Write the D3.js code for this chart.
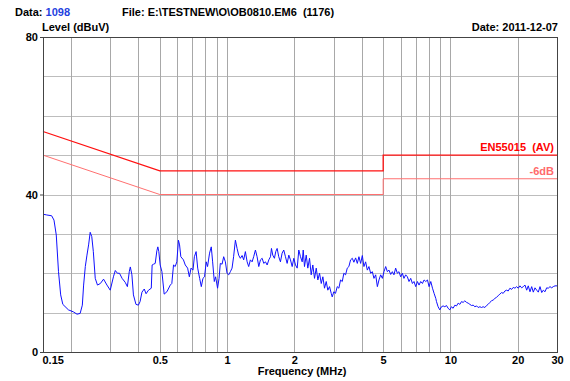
<!DOCTYPE html>
<html>
<head>
<meta charset="utf-8">
<script src="https://cdn.jsdelivr.net/npm/d3@7"></script>
<style>
  html, body { margin: 0; padding: 0; background: #fff; }
  svg { display: block; }
  text { font-family: "Liberation Sans", Arial, sans-serif; font-weight: bold; white-space: pre; }
</style>
</head>
<body>
<svg id="chart" width="570" height="381"></svg>
<script>
// Scan trace: frequency (MHz) and level (dBuV)
const traceFreq = [
  0.150, 0.156, 0.164, 0.168, 0.172, 0.176, 0.180, 0.184, 0.195, 0.205,
  0.213, 0.220, 0.225, 0.228, 0.232, 0.236, 0.240, 0.244, 0.248, 0.252,
  0.257, 0.263, 0.271, 0.280, 0.290, 0.300, 0.310, 0.316, 0.323, 0.330,
  0.339, 0.350, 0.358, 0.365, 0.369, 0.375, 0.381, 0.391, 0.401, 0.408,
  0.416, 0.426, 0.434, 0.445, 0.458, 0.462, 0.469, 0.477, 0.485, 0.490,
  0.495, 0.502, 0.511, 0.523, 0.538, 0.557, 0.566, 0.576, 0.586, 0.596,
  0.606, 0.613, 0.621, 0.638, 0.650, 0.666, 0.678, 0.690, 0.704, 0.714,
  0.727, 0.739, 0.754, 0.767, 0.780, 0.793, 0.807, 0.818, 0.835, 0.850,
  0.862, 0.877, 0.889, 0.907, 0.921, 0.933, 0.950, 0.966, 0.983, 1.000,
  1.017, 1.035, 1.053, 1.070, 1.090, 1.109, 1.127, 1.147, 1.168, 1.187,
  1.208, 1.230, 1.250, 1.272, 1.295, 1.316, 1.340, 1.363, 1.387, 1.411,
  1.436, 1.460, 1.486, 1.512, 1.538, 1.565, 1.581, 1.602, 1.630, 1.652,
  1.676, 1.704, 1.734, 1.764, 1.794, 1.826, 1.858, 1.890, 1.923, 1.957,
  1.990, 2.025, 2.061, 2.095, 2.132, 2.170, 2.193, 2.222, 2.262, 2.299,
  2.340, 2.381, 2.421, 2.464, 2.508, 2.550, 2.595, 2.641, 2.685, 2.731,
  2.780, 2.826, 2.876, 2.927, 2.957, 3.006, 3.059, 3.114, 3.166, 3.222,
  3.280, 3.334, 3.393, 3.453, 3.511, 3.573, 3.637, 3.697, 3.764, 3.830,
  3.894, 3.963, 4.033, 4.100, 4.173, 4.247, 4.318, 4.394, 4.472, 4.547,
  4.627, 4.709, 4.788, 4.873, 4.959, 5.041, 5.131, 5.221, 5.308, 5.403,
  5.496, 5.587, 5.686, 5.787, 5.884, 5.988, 6.093, 6.195, 6.305, 6.416,
  6.525, 6.641, 6.758, 6.871, 6.993, 7.117, 7.235, 7.363, 7.494, 7.621,
  7.756, 7.894, 8.025, 8.167, 8.312, 8.450, 8.600, 8.663, 8.807, 8.963,
  9.121, 9.275, 9.438, 9.605, 9.765, 9.938, 10.11, 10.28, 10.47, 10.65,
  10.83, 11.02, 11.21, 11.40, 11.60, 11.81, 12.01, 12.22, 12.44, 12.64,
  12.87, 13.10, 13.31, 13.55, 13.78, 14.01, 14.26, 14.51, 14.75, 15.02,
  15.28, 15.54, 15.81, 16.09, 16.36, 16.65, 16.95, 17.23, 17.54, 17.85,
  18.14, 18.47, 18.80, 19.11, 19.45, 19.79, 20.12, 20.48, 20.84, 21.19,
  21.57, 21.95, 22.31, 22.71, 23.11, 23.50, 23.91, 24.34, 24.74, 25.18,
  25.63, 26.04, 26.51, 26.97, 27.42, 27.91, 28.40, 28.88, 29.39, 30.00
];
const traceLevel = [
  35.0, 34.8, 34.6, 33.5, 29.7, 20.4, 14.5, 12.1, 10.7, 10.2,
  9.6, 9.8, 11.9, 17.0, 21.7, 24.6, 27.2, 30.4, 29.3, 25.5,
  18.7, 17.0, 17.4, 18.5, 17.0, 15.7, 19.1, 20.7, 20.0, 20.0,
  18.7, 17.7, 16.6, 20.4, 21.6, 19.6, 14.5, 12.1, 11.9, 12.8,
  15.2, 16.0, 14.8, 15.7, 16.2, 22.1, 22.3, 22.5, 25.7, 26.7,
  25.5, 22.1, 20.4, 14.7, 15.3, 17.0, 17.4, 22.1, 21.7, 22.9,
  28.4, 27.2, 24.2, 23.4, 22.1, 21.3, 19.1, 21.3, 20.8, 24.2,
  25.5, 21.3, 18.7, 16.6, 18.7, 19.1, 22.9, 21.7, 25.1, 26.7,
  22.9, 17.9, 19.1, 16.2, 18.7, 22.5, 22.3, 24.2, 22.9, 20.0,
  19.6, 20.4, 21.3, 24.2, 28.4, 26.3, 24.6, 23.8, 24.5, 23.4,
  25.5, 22.9, 21.7, 23.4, 22.9, 24.2, 25.9, 24.2, 21.7, 23.4,
  23.8, 22.5, 22.9, 22.1, 23.4, 24.2, 26.3, 24.6, 23.8, 25.5,
  26.3, 24.2, 22.9, 25.1, 25.9, 24.2, 22.5, 24.6, 23.4, 21.7,
  23.8, 22.1, 21.3, 25.9, 24.2, 22.9, 25.9, 21.7, 24.6, 21.3,
  23.8, 19.6, 22.1, 18.7, 21.3, 18.3, 20.0, 17.4, 19.1, 16.2,
  17.9, 15.7, 16.6, 14.9, 14.0, 15.3, 14.9, 16.6, 16.2, 18.3,
  17.9, 20.0, 19.6, 21.3, 21.7, 23.4, 23.8, 22.8, 23.9, 22.5,
  24.2, 22.5, 24.5, 21.7, 22.9, 20.8, 21.7, 20.0, 20.4, 18.7,
  19.6, 16.6, 18.3, 19.6, 18.7, 20.4, 21.7, 20.4, 20.8, 19.7,
  20.4, 19.6, 21.3, 20.0, 20.4, 19.1, 20.0, 18.7, 19.6, 19.1,
  17.9, 18.7, 17.4, 17.9, 16.6, 17.9, 17.0, 17.9, 17.4, 18.3,
  17.9, 18.3, 16.6, 17.9, 16.2, 14.9, 13.6, 12.8, 11.5, 10.7,
  11.5, 11.7, 11.5, 11.8, 11.1, 10.7, 11.5, 11.1, 11.9, 11.7,
  12.4, 12.1, 12.8, 12.6, 13.0, 12.6, 12.4, 12.1, 11.8, 11.9,
  11.5, 11.7, 11.3, 11.5, 11.3, 11.5, 11.3, 11.8, 12.1, 12.6,
  13.0, 13.2, 13.6, 13.9, 14.3, 14.7, 15.1, 14.9, 15.5, 15.7,
  15.5, 16.2, 15.9, 16.4, 16.2, 16.6, 16.2, 16.8, 16.3, 16.6,
  17.0, 15.7, 16.8, 15.3, 16.6, 15.2, 16.3, 15.7, 15.2, 16.6,
  15.1, 15.7, 15.3, 16.3, 16.2, 16.6, 16.3, 16.6, 16.8, 16.8
];

// EN55015 (AV) limit and the -6 dB margin line
const limitFreq = [0.15, 0.5, 5, 5, 30];
const limitLevel = [56, 46, 46, 50, 50];
const marginLevel = [50, 40, 40, 44, 44];

// Axis ticks and grid
const xTickValues = [0.15, 0.5, 1, 2, 5, 10, 20, 30];
const xTickLabels = ["0.15", "0.5", "1", "2", "5", "10", "20", "30"];
const xGridValues = [0.2, 0.3, 0.4, 0.5, 0.6, 0.7, 0.8, 0.9, 1, 2, 3, 4, 5, 6, 7, 8, 9, 10, 20];
const yTickValues = [0, 40, 80];
const yGridValues = [10, 20, 30, 40, 50, 60, 70];

const svg = d3.select("#chart");
const plotLeft = 43, plotRight = 557, plotTop = 37, plotBottom = 352;

const x = d3.scaleLog().domain([0.15, 30]).range([plotLeft, plotRight]);
const y = d3.scaleLinear().domain([0, 80]).range([plotBottom, plotTop]);

// Header texts
const header = svg.append("g").attr("font-size", 11);
const dataLabel = header.append("text").attr("x", 15).attr("y", 16).attr("fill", "#000");
dataLabel.append("tspan").text("Data: ");
dataLabel.append("tspan").attr("fill", "#1f3fe0").text("1098");
header.append("text").attr("x", 122).attr("y", 16).attr("fill", "#000")
  .text("File: E:\\TESTNEW\\O\\OB0810.EM6  (1176)");
header.append("text").attr("x", 42).attr("y", 31).attr("fill", "#000").text("Level (dBuV)");
header.append("text").attr("x", 558).attr("y", 31).attr("text-anchor", "end").attr("fill", "#000")
  .text("Date: 2011-12-07");

// Grid
const grid = svg.append("g").attr("shape-rendering", "crispEdges");
grid.selectAll("line.h").data(yGridValues).join("line")
  .attr("class", "h")
  .attr("x1", plotLeft).attr("x2", plotRight)
  .attr("y1", d => Math.round(y(d)) + 0.5).attr("y2", d => Math.round(y(d)) + 0.5)
  .attr("stroke", "#bdbdbd").attr("stroke-width", 1);
grid.selectAll("line.v").data(xGridValues).join("line")
  .attr("class", "v")
  .attr("x1", d => Math.round(x(d)) + 0.5).attr("x2", d => Math.round(x(d)) + 0.5)
  .attr("y1", plotTop).attr("y2", plotBottom)
  .attr("stroke", "#a8a8a8").attr("stroke-width", 1);

// Limit lines
const limitPts = limitFreq.map((f, i) => [f, limitLevel[i]]);
const marginPts = limitFreq.map((f, i) => [f, marginLevel[i]]);
const lineGen = d3.line().x(d => x(d[0])).y(d => y(d[1]));

svg.append("path").datum(marginPts)
  .attr("d", lineGen).attr("fill", "none")
  .attr("stroke", "#ff7070").attr("stroke-width", 1);
svg.append("path").datum(limitPts)
  .attr("d", lineGen).attr("fill", "none")
  .attr("stroke", "#ff1010").attr("stroke-width", 1.3);

svg.append("text").attr("x", 554).attr("y", y(50) - 4)
  .attr("text-anchor", "end").attr("font-size", 11).attr("fill", "#ff0000")
  .text("EN55015  (AV)");
svg.append("text").attr("x", 554).attr("y", y(44) - 4)
  .attr("text-anchor", "end").attr("font-size", 11).attr("fill", "#ff6a6a")
  .text("-6dB");

// Measured trace
const tracePts = traceFreq.map((f, i) => [f, traceLevel[i]]);
svg.append("path").datum(tracePts)
  .attr("d", lineGen).attr("fill", "none")
  .attr("stroke", "#1010ff").attr("stroke-width", 1)
  .attr("stroke-linejoin", "round");

// Frame
svg.append("rect")
  .attr("x", plotLeft + 0.5).attr("y", plotTop + 0.5)
  .attr("width", plotRight - plotLeft).attr("height", plotBottom - plotTop)
  .attr("fill", "none").attr("stroke", "#444").attr("stroke-width", 1)
  .attr("shape-rendering", "crispEdges");

// Axes
const xAxis = d3.axisBottom(x).tickValues(xTickValues)
  .tickFormat((d, i) => xTickLabels[i]).tickSize(0).tickPadding(4);
const gx = svg.append("g").attr("transform", `translate(0,${plotBottom})`).call(xAxis);
gx.select(".domain").remove();
gx.selectAll("text").attr("font-size", 11).attr("fill", "#000")
  .attr("font-family", "Liberation Sans, Arial, sans-serif").attr("font-weight", "bold");
gx.selectAll(".tick").filter(d => d === 0.15).select("text")
  .attr("text-anchor", "start").attr("dx", -1);

const yAxis = d3.axisLeft(y).tickValues(yTickValues).tickSize(3).tickPadding(2);
const gy = svg.append("g").attr("transform", `translate(${plotLeft},0)`).call(yAxis);
gy.select(".domain").remove();
gy.selectAll("line").attr("stroke", "#444");
gy.selectAll("text").attr("font-size", 11).attr("fill", "#000")
  .attr("font-family", "Liberation Sans, Arial, sans-serif").attr("font-weight", "bold");

svg.append("text").attr("x", 302).attr("y", 375).attr("text-anchor", "middle")
  .attr("font-size", 11).attr("fill", "#000").text("Frequency (MHz)");
</script>
</body>
</html>
